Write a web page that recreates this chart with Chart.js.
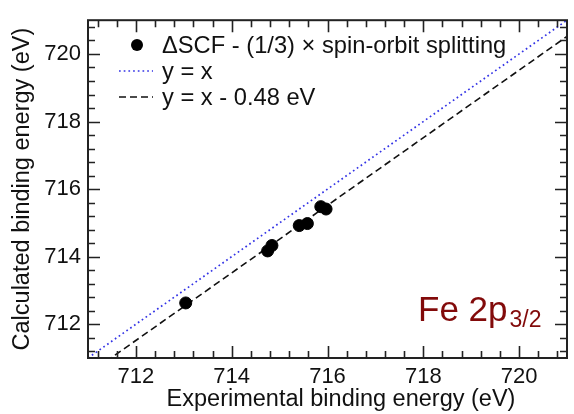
<!DOCTYPE html>
<html lang="en">
<head>
    <meta charset="UTF-8">
    <title>Fe 2p3/2 binding energies</title>
    <script src="https://cdn.jsdelivr.net/npm/chart.js"></script>
    <style>
        html, body { margin: 0; padding: 0; background: #fff; }
        #box { width: 574px; height: 414px; }
    </style>
</head>
<body>
    <div id="box"><canvas id="feChart"></canvas></div>

    <script>
        // axis range + labelled ticks
        const xMin = 711, xMax = 721;
        const yMin = 711, yMax = 721;
        const tickLabels = [712, 714, 716, 718, 720];
        const minorStart = 711.2, minorStep = 0.4;

        // measured points (experimental vs calculated)
        const expX = [713.04, 714.75, 714.84, 715.41, 715.58, 715.86, 715.97];
        const calcY = [712.63, 714.17, 714.33, 714.92, 714.98, 715.48, 715.41];

        // reference lines, end points only
        const lineX = [711, 721];
        const identityY = [711, 721];
        const shiftedY = [710.52, 720.52];

        const seriesLabels = ['ΔSCF - (1/3) × spin-orbit splitting', 'y = x', 'y = x - 0.48 eV'];

        const FONT = 'Liberation Sans, Arial, sans-serif';

        function pts(xs, ys) {
            return xs.map((v, i) => ({ x: v, y: ys[i] }));
        }

        // frame with inward ticks on all four sides, legend and titles
        const decorPlugin = {
            id: 'decor',
            afterDatasetsDraw(chart) {
                const { ctx, chartArea: a, scales } = chart;
                const sx = scales.x, sy = scales.y;
                ctx.save();
                ctx.strokeStyle = '#222';
                ctx.lineWidth = 1.6;
                for (let k = 0; k < 25; k++) {
                    const v = +(minorStart + k * minorStep).toFixed(2);
                    const major = Math.abs(v / 2 - Math.round(v / 2)) < 1e-6;
                    const len = major ? 12 : 7;
                    const px = Math.round(sx.getPixelForValue(v)) + 0.5;
                    const py = Math.round(sy.getPixelForValue(v)) + 0.5;
                    ctx.beginPath();
                    ctx.moveTo(px, a.bottom); ctx.lineTo(px, a.bottom - len);
                    ctx.moveTo(px, a.top); ctx.lineTo(px, a.top + len);
                    ctx.moveTo(a.left, py); ctx.lineTo(a.left + len, py);
                    ctx.moveTo(a.right, py); ctx.lineTo(a.right - len, py);
                    ctx.stroke();
                }
                ctx.lineWidth = 2;
                ctx.strokeRect(a.left, a.top, a.right - a.left, a.bottom - a.top);

                // legend
                const ds = chart.data.datasets;
                ctx.font = '23.7px ' + FONT;
                ctx.textBaseline = 'middle';
                const rows = [45, 71, 97];
                ds.forEach((d, i) => {
                    const yy = rows[i];
                    if (i === 0) {
                        ctx.beginPath();
                        ctx.arc(137, yy, 6, 0, Math.PI * 2);
                        ctx.fillStyle = d.backgroundColor;
                        ctx.fill();
                    } else {
                        ctx.beginPath();
                        ctx.setLineDash(d.borderDash);
                        ctx.strokeStyle = d.borderColor;
                        ctx.lineWidth = d.borderWidth;
                        ctx.moveTo(119, yy); ctx.lineTo(153, yy);
                        ctx.stroke();
                        ctx.setLineDash([]);
                    }
                    ctx.fillStyle = '#111';
                    ctx.textAlign = 'left';
                    ctx.fillText(d.label, 162, yy + 1);
                });

                // Fe 2p3/2 tag
                ctx.fillStyle = '#820a0a';
                ctx.textBaseline = 'alphabetic';
                ctx.font = '35px ' + FONT;
                ctx.fillText('Fe 2p', 418, 321);
                const w = ctx.measureText('Fe 2p').width;
                ctx.font = '23px ' + FONT;
                ctx.fillText('3/2', 418 + w + 2, 327);

                // axis titles
                ctx.fillStyle = '#111';
                ctx.font = '23.5px ' + FONT;
                ctx.textAlign = 'center';
                ctx.textBaseline = 'middle';
                ctx.fillText('Experimental binding energy (eV)', 341, 400);
                ctx.translate(23, (a.top + a.bottom) / 2);
                ctx.rotate(-Math.PI / 2);
                ctx.fillText('Calculated binding energy (eV)', 0, 0);
                ctx.restore();
            }
        };

        const ctx = document.getElementById('feChart').getContext('2d');
        new Chart(ctx, {
            type: 'scatter',
            data: {
                datasets: [
                    {
                        label: seriesLabels[0],
                        data: pts(expX, calcY),
                        backgroundColor: '#000',
                        borderColor: '#000',
                        pointRadius: 6,
                        order: 0
                    },
                    {
                        label: seriesLabels[1],
                        data: pts(lineX, identityY),
                        showLine: true,
                        borderColor: '#3333e6',
                        borderWidth: 1.7,
                        borderDash: [1.7, 3],
                        pointRadius: 0,
                        order: 1
                    },
                    {
                        label: seriesLabels[2],
                        data: pts(lineX, shiftedY),
                        showLine: true,
                        borderColor: '#111',
                        borderWidth: 1.6,
                        borderDash: [7, 4],
                        pointRadius: 0,
                        order: 2
                    }
                ]
            },
            options: {
                responsive: true,
                maintainAspectRatio: false,
                animation: false,
                layout: { padding: { top: 11, right: 2, left: 0, bottom: 0 } },
                plugins: {
                    legend: { display: false },
                    tooltip: { enabled: false }
                },
                scales: {
                    x: {
                        type: 'linear',
                        min: xMin, max: xMax,
                        afterFit: s => { s.height = 56; },
                        afterBuildTicks: s => { s.ticks = tickLabels.map(v => ({ value: v })); },
                        grid: { display: false, drawTicks: false },
                        border: { display: false },
                        ticks: { color: '#111', padding: 6, font: { size: 22, family: FONT }, maxRotation: 0 }
                    },
                    y: {
                        type: 'linear',
                        min: yMin, max: yMax,
                        afterFit: s => { s.width = 88; },
                        afterBuildTicks: s => { s.ticks = tickLabels.map(v => ({ value: v })); },
                        grid: { display: false, drawTicks: false },
                        border: { display: false },
                        ticks: { color: '#111', padding: 7, font: { size: 22, family: FONT } }
                    }
                }
            },
            plugins: [decorPlugin]
        });
    </script>
</body>
</html>
